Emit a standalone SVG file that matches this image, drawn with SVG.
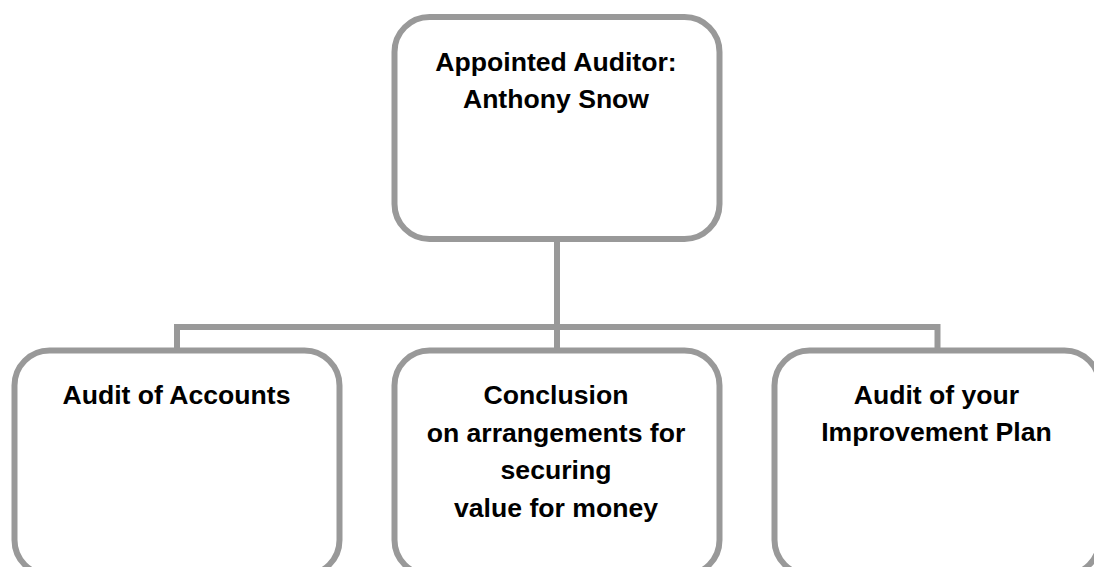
<svg xmlns="http://www.w3.org/2000/svg" width="1094" height="567" viewBox="0 0 1094 567">
<style>
.box{fill:#ffffff;stroke:#999999;stroke-width:6}
.conn{fill:none;stroke:#999999;stroke-width:6}
.t{font-family:"Liberation Sans",Arial,sans-serif;font-weight:bold;font-size:26.6px;fill:#000000;text-anchor:middle}
</style>
<rect width="1094" height="567" fill="#ffffff"/>
<g id="connectors">
<path class="conn" d="M557 239 V350.5"/>
<path class="conn" d="M177 350.5 V327 H937.5 V350.5"/>
</g>
<g id="auditor">
<rect class="box" x="394.5" y="17" width="325" height="222" rx="35" ry="35"/>
<text class="t" x="556" y="71">Appointed Auditor:</text>
<text class="t" x="556" y="108">Anthony Snow</text>
</g>
<g id="accounts">
<rect class="box" x="14.5" y="350.5" width="325" height="224.5" rx="35" ry="35"/>
<text class="t" x="176.5" y="404">Audit of Accounts</text>
</g>
<g id="conclusion">
<rect class="box" x="394.5" y="350.5" width="325" height="224.5" rx="35" ry="35"/>
<text class="t" x="556" y="404">Conclusion</text>
<text class="t" x="556" y="441.5">on arrangements for</text>
<text class="t" x="556" y="479">securing</text>
<text class="t" x="556" y="516.5">value for money</text>
</g>
<g id="improvement">
<rect class="box" x="774.5" y="350.5" width="325" height="224.5" rx="35" ry="35"/>
<text class="t" x="936.5" y="403.5">Audit of your</text>
<text class="t" x="936.5" y="440.5">Improvement Plan</text>
</g>
</svg>
